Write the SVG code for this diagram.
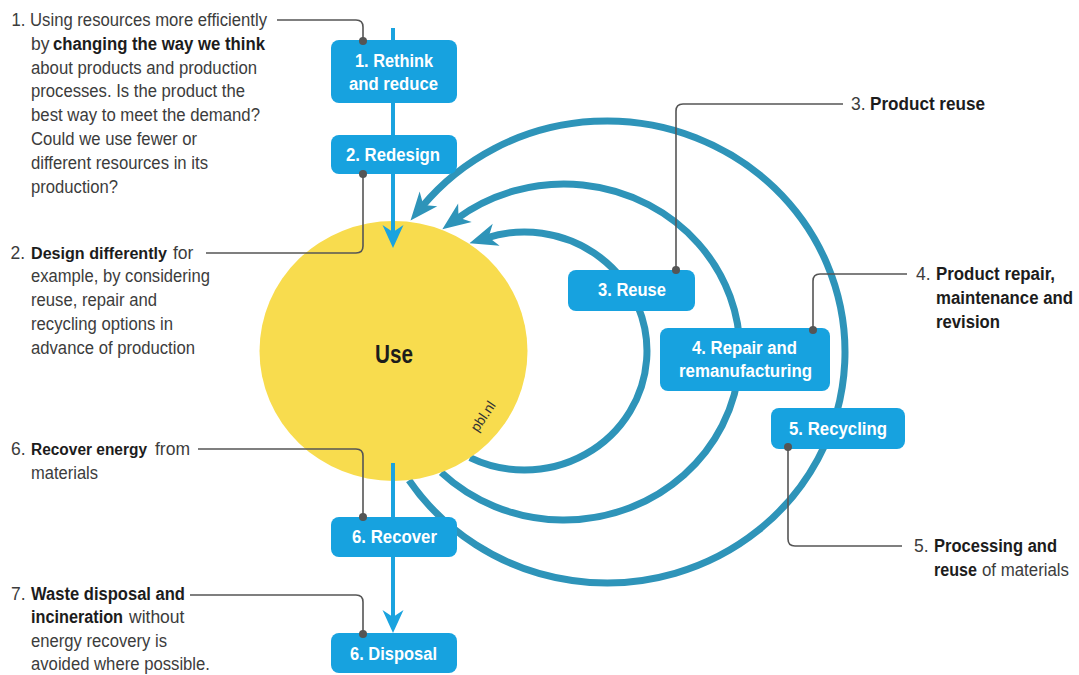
<svg xmlns="http://www.w3.org/2000/svg" width="1079" height="675" viewBox="0 0 1079 675">
<defs>
<style>
.t{font-family:"Liberation Sans Narrow","Liberation Sans",Arial,sans-serif;font-size:17.5px;fill:#3c3c3c}
.b{font-weight:bold;fill:#1c1c1c}
.s{font-size:16px}
.bx{font-family:"Liberation Sans Narrow","Liberation Sans",Arial,sans-serif;font-size:17.5px;font-weight:bold;fill:#ffffff;text-anchor:middle}
.box{fill:#17a2df}
.arc{fill:none;stroke:#2e94b9;stroke-width:7}
.flow{fill:none;stroke:#1aa3df;stroke-width:4}
.call{fill:none;stroke:#555555;stroke-width:1.6}
.dot{fill:#555555}
</style>
<marker id="ah" markerUnits="userSpaceOnUse" markerWidth="30" markerHeight="26" viewBox="-29 -13 30 26" refX="-18" refY="0" orient="auto">
<path d="M0,0 L-28,-11.5 L-20,0 L-28,11.5 Z" fill="#2e94b9"/>
</marker>
<marker id="fh" markerUnits="userSpaceOnUse" markerWidth="26" markerHeight="24" viewBox="-24 -12 26 24" refX="-14" refY="0" orient="auto">
<path d="M0,0 L-23,-10.5 L-16,0 L-23,10.5 Z" fill="#1aa3df"/>
</marker>
</defs>
<rect width="1079" height="675" fill="#ffffff"/>

<g id="cycle-connectors">
<path class="arc" d="M470,457.6 A122.5,119 0 1 0 486.65,237.82" marker-end="url(#ah)"/>
<path class="arc" d="M441.3,472.5 A176,168 0 1 0 456.86,218.72" marker-end="url(#ah)"/>
<path class="arc" d="M409,480.2 A238,231 0 1 0 422.04,206.63" marker-end="url(#ah)"/>
</g>

<g id="use">
<ellipse cx="393.5" cy="351" rx="134" ry="130" fill="#f8dc4e"/>
<text x="394" y="363" font-family="'Liberation Sans Narrow','Liberation Sans',Arial,sans-serif" font-size="25" font-weight="bold" fill="#1c1c1c" text-anchor="middle" textLength="38" lengthAdjust="spacingAndGlyphs">Use</text>
<text transform="translate(487,419) rotate(-56)" font-family="'Liberation Sans',Arial,sans-serif" font-size="14" fill="#333333" text-anchor="middle">pbl.nl</text>
</g>

<g id="connectors">
<path class="flow" d="M393,28 V234" marker-end="url(#fh)"/>
<path class="flow" d="M393,463 V517"/>
<path class="flow" d="M393,557 V619" marker-end="url(#fh)"/>
<path class="call" d="M277,20 H356 Q363,20 363,27 V41"/>
<path class="call" d="M206,253 H356 Q363,253 363,246 V174"/>
<path class="call" d="M198,449 H356 Q363,449 363,456 V517"/>
<path class="call" d="M190,595 H356 Q363,595 363,602 V634"/>
<path class="call" d="M676,270 V111 Q676,104 683,104 H843"/>
<path class="call" d="M813,330 V281 Q813,274 820,274 H907"/>
<path class="call" d="M788,447 V539 Q788,546 795,546 H902"/>
</g>

<g id="box-rethink">
<rect class="box" x="331" y="40" width="126" height="63" rx="8"/>
<text class="bx" x="394" y="67" textLength="78" lengthAdjust="spacingAndGlyphs">1. Rethink</text>
<text class="bx" x="393.5" y="90" textLength="89" lengthAdjust="spacingAndGlyphs">and reduce</text>
</g>
<g id="box-redesign">
<rect class="box" x="331" y="135" width="126" height="39" rx="8"/>
<text class="bx" x="393" y="161" textLength="94" lengthAdjust="spacingAndGlyphs">2. Redesign</text>
</g>
<g id="box-reuse">
<rect class="box" x="568" y="270" width="127" height="41" rx="8"/>
<text class="bx" x="632" y="296" textLength="68" lengthAdjust="spacingAndGlyphs">3. Reuse</text>
</g>
<g id="box-repair">
<rect class="box" x="660" y="328" width="170" height="63" rx="8"/>
<text class="bx" x="744.5" y="354" textLength="105" lengthAdjust="spacingAndGlyphs">4. Repair and</text>
<text class="bx" x="745.5" y="377" textLength="133" lengthAdjust="spacingAndGlyphs">remanufacturing</text>
</g>
<g id="box-recycling">
<rect class="box" x="771" y="408" width="134" height="41" rx="8"/>
<text class="bx" x="838" y="435" textLength="98" lengthAdjust="spacingAndGlyphs">5. Recycling</text>
</g>
<g id="box-recover">
<rect class="box" x="331" y="517" width="126" height="40" rx="8"/>
<text class="bx" x="394.5" y="543" textLength="85" lengthAdjust="spacingAndGlyphs">6. Recover</text>
</g>
<g id="box-disposal">
<rect class="box" x="331" y="633" width="126" height="40" rx="8"/>
<text class="bx" x="393.5" y="660" textLength="87" lengthAdjust="spacingAndGlyphs">6. Disposal</text>
</g>

<g id="dots">
<circle class="dot" cx="363" cy="41" r="4"/>
<circle class="dot" cx="363" cy="174" r="4"/>
<circle class="dot" cx="363" cy="517" r="4"/>
<circle class="dot" cx="363" cy="634" r="4"/>
<circle class="dot" cx="676" cy="270" r="4"/>
<circle class="dot" cx="813" cy="330" r="4"/>
<circle class="dot" cx="788" cy="447" r="4"/>
</g>

<g id="note-1">
<text class="t" x="11.5" y="26" textLength="255.5" lengthAdjust="spacingAndGlyphs">1. Using resources more efficiently</text>
<text class="t" x="31" y="49.8">by</text>
<text class="t b" x="53" y="49.8" textLength="212" lengthAdjust="spacingAndGlyphs">changing the way we think</text>
<text class="t" x="31" y="73.6" textLength="226" lengthAdjust="spacingAndGlyphs">about products and production</text>
<text class="t" x="31" y="97.4" textLength="214" lengthAdjust="spacingAndGlyphs">processes. Is the product the</text>
<text class="t" x="31" y="121.2" textLength="229" lengthAdjust="spacingAndGlyphs">best way to meet the demand?</text>
<text class="t" x="31" y="145" textLength="166" lengthAdjust="spacingAndGlyphs">Could we use fewer or</text>
<text class="t" x="31" y="168.8" textLength="177" lengthAdjust="spacingAndGlyphs">different resources in its</text>
<text class="t" x="31" y="192.6" textLength="87" lengthAdjust="spacingAndGlyphs">production?</text>
</g>
<g id="note-2">
<text class="t" x="10.5" y="258.5">2.</text>
<text class="t b s" x="31" y="258.5" textLength="136" lengthAdjust="spacingAndGlyphs">Design differently</text>
<text class="t" x="173" y="258.5">for</text>
<text class="t" x="31" y="282.3" textLength="179" lengthAdjust="spacingAndGlyphs">example, by considering</text>
<text class="t" x="31" y="306.1" textLength="126" lengthAdjust="spacingAndGlyphs">reuse, repair and</text>
<text class="t" x="31" y="329.9" textLength="142" lengthAdjust="spacingAndGlyphs">recycling options in</text>
<text class="t" x="31" y="353.7" textLength="164" lengthAdjust="spacingAndGlyphs">advance of production</text>
</g>
<g id="note-6">
<text class="t" x="11" y="455">6.</text>
<text class="t b s" x="31" y="455" textLength="116" lengthAdjust="spacingAndGlyphs">Recover energy</text>
<text class="t" x="155" y="455">from</text>
<text class="t" x="31" y="478.8" textLength="67" lengthAdjust="spacingAndGlyphs">materials</text>
</g>
<g id="note-7">
<text class="t" x="11" y="600">7.</text>
<text class="t b" x="31" y="600" textLength="154" lengthAdjust="spacingAndGlyphs">Waste disposal and</text>
<text class="t b" x="31" y="623.3" textLength="92" lengthAdjust="spacingAndGlyphs">incineration</text>
<text class="t" x="129" y="623.3">without</text>
<text class="t" x="31" y="646.6" textLength="136" lengthAdjust="spacingAndGlyphs">energy recovery is</text>
<text class="t" x="31" y="670" textLength="179" lengthAdjust="spacingAndGlyphs">avoided where possible.</text>
</g>
<g id="note-3">
<text class="t" x="851" y="110">3.</text>
<text class="t b" x="870" y="110" textLength="115" lengthAdjust="spacingAndGlyphs">Product reuse</text>
</g>
<g id="note-4">
<text class="t" x="916" y="280">4.</text>
<text class="t b" x="936" y="280" textLength="119" lengthAdjust="spacingAndGlyphs">Product repair,</text>
<text class="t b" x="936" y="304" textLength="137" lengthAdjust="spacingAndGlyphs">maintenance and</text>
<text class="t b" x="936" y="327.5" textLength="64" lengthAdjust="spacingAndGlyphs">revision</text>
</g>
<g id="note-5">
<text class="t" x="914" y="552">5.</text>
<text class="t b" x="934" y="552" textLength="123" lengthAdjust="spacingAndGlyphs">Processing and</text>
<text class="t b" x="934" y="576" textLength="43" lengthAdjust="spacingAndGlyphs">reuse</text>
<text class="t" x="982" y="576" textLength="87" lengthAdjust="spacingAndGlyphs">of materials</text>
</g>
</svg>
